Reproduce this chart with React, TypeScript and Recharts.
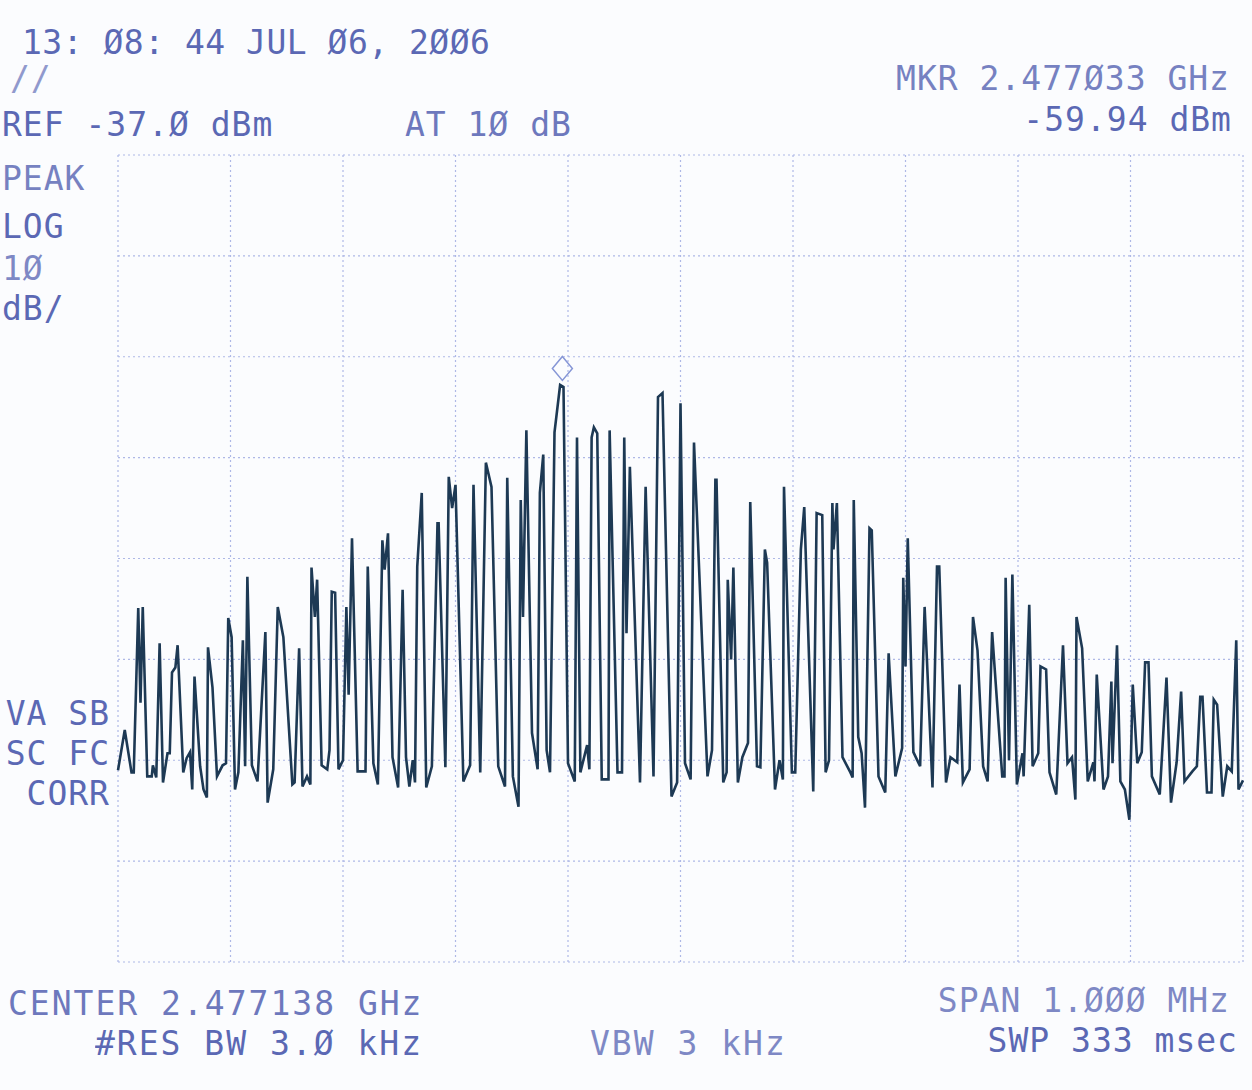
import { CartesianGrid, Line, LineChart, ReferenceDot, XAxis, YAxis } from "recharts";

// frequency offset from start of sweep (kHz), start = 2.476638 GHz, span 1 MHz
const freqKHz = [
  0, 6, 12, 14, 18, 20, 22, 26, 30, 31, 34, 37, 40, 44, 46, 48, 51, 53, 58, 61,
  64, 66, 68, 73, 76, 79, 80, 84, 88, 93, 96, 98, 101, 104, 107, 111, 113, 115, 119, 124,
  131, 133, 138, 142, 147, 155, 157, 161, 164, 168, 171, 172, 175, 177, 181, 186, 188, 190, 193, 196,
  200, 203, 205, 208, 213, 220, 222, 227, 231, 235, 237, 240, 244, 249, 253, 256, 259, 262, 264, 266,
  270, 274, 279, 284, 285, 291, 294, 297, 300, 307, 313, 316, 322, 327, 332, 338, 344, 346, 351, 356,
  358, 360, 363, 368, 373, 375, 378, 381, 384, 388, 393, 396, 400, 406, 408, 411, 417, 419, 421, 423,
  426, 430, 436, 437, 444, 448, 450, 452, 455, 464, 469, 476, 480, 484, 492, 497, 500, 504, 509, 512,
  524, 528, 531, 532, 538, 541, 542, 545, 547, 551, 555, 560, 562, 568, 571, 575, 577, 584, 588, 591,
  592, 599, 602, 607, 610, 618, 621, 626, 629, 632, 635, 636, 639, 644, 651, 653, 654, 658, 661, 664,
  668, 670, 676, 682, 685, 691, 697, 698, 700, 702, 707, 713, 717, 724, 728, 730, 736, 740, 746, 748,
  751, 757, 760, 764, 769, 773, 777, 786, 788, 789, 792, 795, 799, 804, 805, 810, 813, 818, 820, 825,
  828, 834, 840, 844, 848, 851, 852, 857, 862, 867, 868, 870, 876, 880, 883, 884, 888, 891, 895, 899,
  902, 906, 910, 913, 916, 919, 926, 932, 936, 941, 945, 948, 955, 959, 962, 964, 968, 972, 974, 977,
  982, 986, 990, 994, 996, 1000,
];

// trace level (dBm), REF -37 dBm, 10 dB/div
const levelDbm = [
  -98.0, -94.0, -98.2, -98.2, -81.9, -91.3, -81.8, -98.6, -98.6, -97.5, -98.7, -85.4, -99.2, -96.3, -96.3, -88.3, -87.8, -85.6, -98.2, -96.8,
  -96.2, -99.9, -88.7, -97.6, -99.9, -100.7, -85.8, -89.8, -98.6, -97.5, -97.3, -82.9, -84.8, -99.9, -98.2, -85.1, -97.6, -78.8, -97.5, -99.1,
  -84.3, -101.2, -97.9, -81.8, -84.8, -99.4, -99.2, -85.9, -99.6, -98.6, -99.4, -77.9, -82.8, -79.1, -97.5, -97.9, -96.0, -80.3, -80.4, -97.9,
  -97.0, -81.8, -90.5, -75.0, -98.1, -98.1, -77.8, -97.3, -99.4, -75.2, -78.1, -74.5, -96.7, -99.7, -80.1, -96.7, -99.6, -97.0, -99.2, -77.8,
  -70.5, -99.7, -97.6, -73.5, -73.5, -97.7, -68.9, -72.0, -69.7, -99.1, -97.5, -69.7, -98.2, -67.5, -69.9, -97.6, -99.6, -69.0, -98.6, -101.6,
  -71.2, -82.8, -64.3, -94.3, -97.9, -70.5, -66.7, -96.0, -98.2, -64.5, -59.8, -60.0, -97.3, -99.1, -65.0, -98.2, -95.5, -97.9, -65.0, -64.0,
  -64.6, -98.9, -98.9, -64.3, -98.2, -98.2, -65.0, -84.4, -67.9, -99.2, -69.9, -98.6, -61.0, -60.6, -100.6, -99.2, -61.6, -97.3, -98.9, -65.5,
  -98.6, -96.0, -69.2, -69.2, -99.2, -98.2, -79.1, -87.0, -77.9, -99.2, -96.7, -95.3, -71.4, -97.6, -97.7, -76.1, -77.4, -99.9, -97.0, -98.9,
  -69.9, -98.2, -98.2, -76.1, -71.9, -100.1, -72.5, -72.7, -98.2, -97.0, -71.5, -76.1, -71.5, -96.7, -98.2, -98.7, -71.2, -94.7, -96.3, -101.7,
  -74.0, -74.2, -98.6, -100.2, -86.4, -98.6, -95.8, -78.9, -87.7, -75.0, -96.2, -97.6, -81.8, -99.7, -77.8, -77.8, -99.2, -96.7, -97.2, -89.5,
  -99.2, -97.9, -82.8, -86.1, -97.6, -99.1, -84.3, -98.6, -98.6, -78.9, -97.0, -78.6, -99.4, -96.3, -98.6, -81.6, -97.6, -96.3, -87.7, -88.0,
  -98.2, -100.4, -85.6, -97.3, -96.7, -100.9, -82.8, -85.9, -99.1, -97.2, -99.1, -88.5, -99.9, -98.6, -89.2, -97.3, -85.6, -99.1, -99.9, -102.9,
  -89.5, -97.3, -96.2, -87.3, -87.3, -98.6, -100.4, -88.8, -101.2, -97.2, -90.2, -99.1, -98.1, -97.6, -90.7, -90.7, -100.2, -100.2, -91.0, -91.5,
  -100.6, -97.6, -98.1, -85.1, -99.9, -99.0,
];

const freqTicks = [0, 100, 200, 300, 400, 500, 600, 700, 800, 900, 1000];
const levelTicks = [-117, -107, -97, -87, -77, -67, -57, -47, -37];

const markerKHz = 395; // MKR 2.477033 GHz
const markerDbm = -59.94;

const W = 1252;
const H = 1090;
const ink = "#4a58ad";
const font = "'DejaVu Sans Mono', monospace";

function Diamond(props: any) {
  const { cx, cy } = props;
  const c = cy - 18;
  return (
    <path
      d={`M${cx} ${c - 12} L${cx + 10} ${c} L${cx} ${c + 12} L${cx - 10} ${c} Z`}
      fill="none"
      stroke="#8696d6"
      strokeWidth={1.5}
    />
  );
}

function Label({ x, y, t, anchor = "start", op = 0.9, ls = 1 }: any) {
  return (
    <text x={x} y={y} textAnchor={anchor} fontFamily={font} fontSize={33} letterSpacing={ls} fill={ink} opacity={op}>
      {t}
    </text>
  );
}

export default function App() {
  const data = freqKHz.map((f, i) => ({ f, lvl: levelDbm[i] }));
  return (
    <div style={{ position: "absolute", left: 0, top: 0, width: W, height: H, background: "#fbfcfe", overflow: "hidden" }}>
      <LineChart width={W} height={H} data={data} margin={{ top: 155, right: 9, bottom: 128, left: 118 }}>
        <CartesianGrid stroke="#aeb8e6" strokeDasharray="2 3" strokeWidth={1.2} />
        <XAxis dataKey="f" type="number" domain={[0, 1000]} ticks={freqTicks} hide />
        <YAxis type="number" domain={[-117, -37]} ticks={levelTicks} hide />
        <Line
          dataKey="lvl"
          type="linear"
          stroke="#1d3954"
          strokeWidth={2.6}
          dot={false}
          isAnimationActive={false}
        />
        <ReferenceDot x={markerKHz} y={markerDbm} r={0} shape={Diamond} ifOverflow="visible" />
      </LineChart>
      <svg width={W} height={H} style={{ position: "absolute", left: 0, top: 0, pointerEvents: "none" }}>
        <Label x={22} y={54} t="13: Ø8: 44 JUL Ø6, 2ØØ6" ls={0.5} />
        <Label x={10} y={90} t="//" op={0.6} />
        <Label x={2} y={136} t="REF -37.Ø dBm" />
        <Label x={405} y={136} t="AT 1Ø dB" op={0.8} />
        <Label x={1230} y={90} t="MKR 2.477Ø33 GHz" anchor="end" op={0.75} />
        <Label x={1232} y={131} t="-59.94 dBm" anchor="end" />
        <Label x={2} y={190} t="PEAK" op={0.75} />
        <Label x={2} y={238} t="LOG" />
        <Label x={2} y={280} t="1Ø" op={0.7} />
        <Label x={2} y={320} t="dB/" />
        <Label x={110} y={725} t="VA SB" anchor="end" />
        <Label x={110} y={765} t="SC FC" anchor="end" />
        <Label x={110} y={805} t="CORR" anchor="end" />
        <Label x={8} y={1015} t="CENTER 2.477138 GHz" op={0.8} ls={2} />
        <Label x={95} y={1055} t="#RES BW 3.Ø kHz" ls={2} />
        <Label x={590} y={1055} t="VBW 3 kHz" op={0.7} ls={2} />
        <Label x={1230} y={1012} t="SPAN 1.ØØØ MHz" anchor="end" op={0.7} />
        <Label x={1238} y={1052} t="SWP 333 msec" anchor="end" />
      </svg>
    </div>
  );
}
